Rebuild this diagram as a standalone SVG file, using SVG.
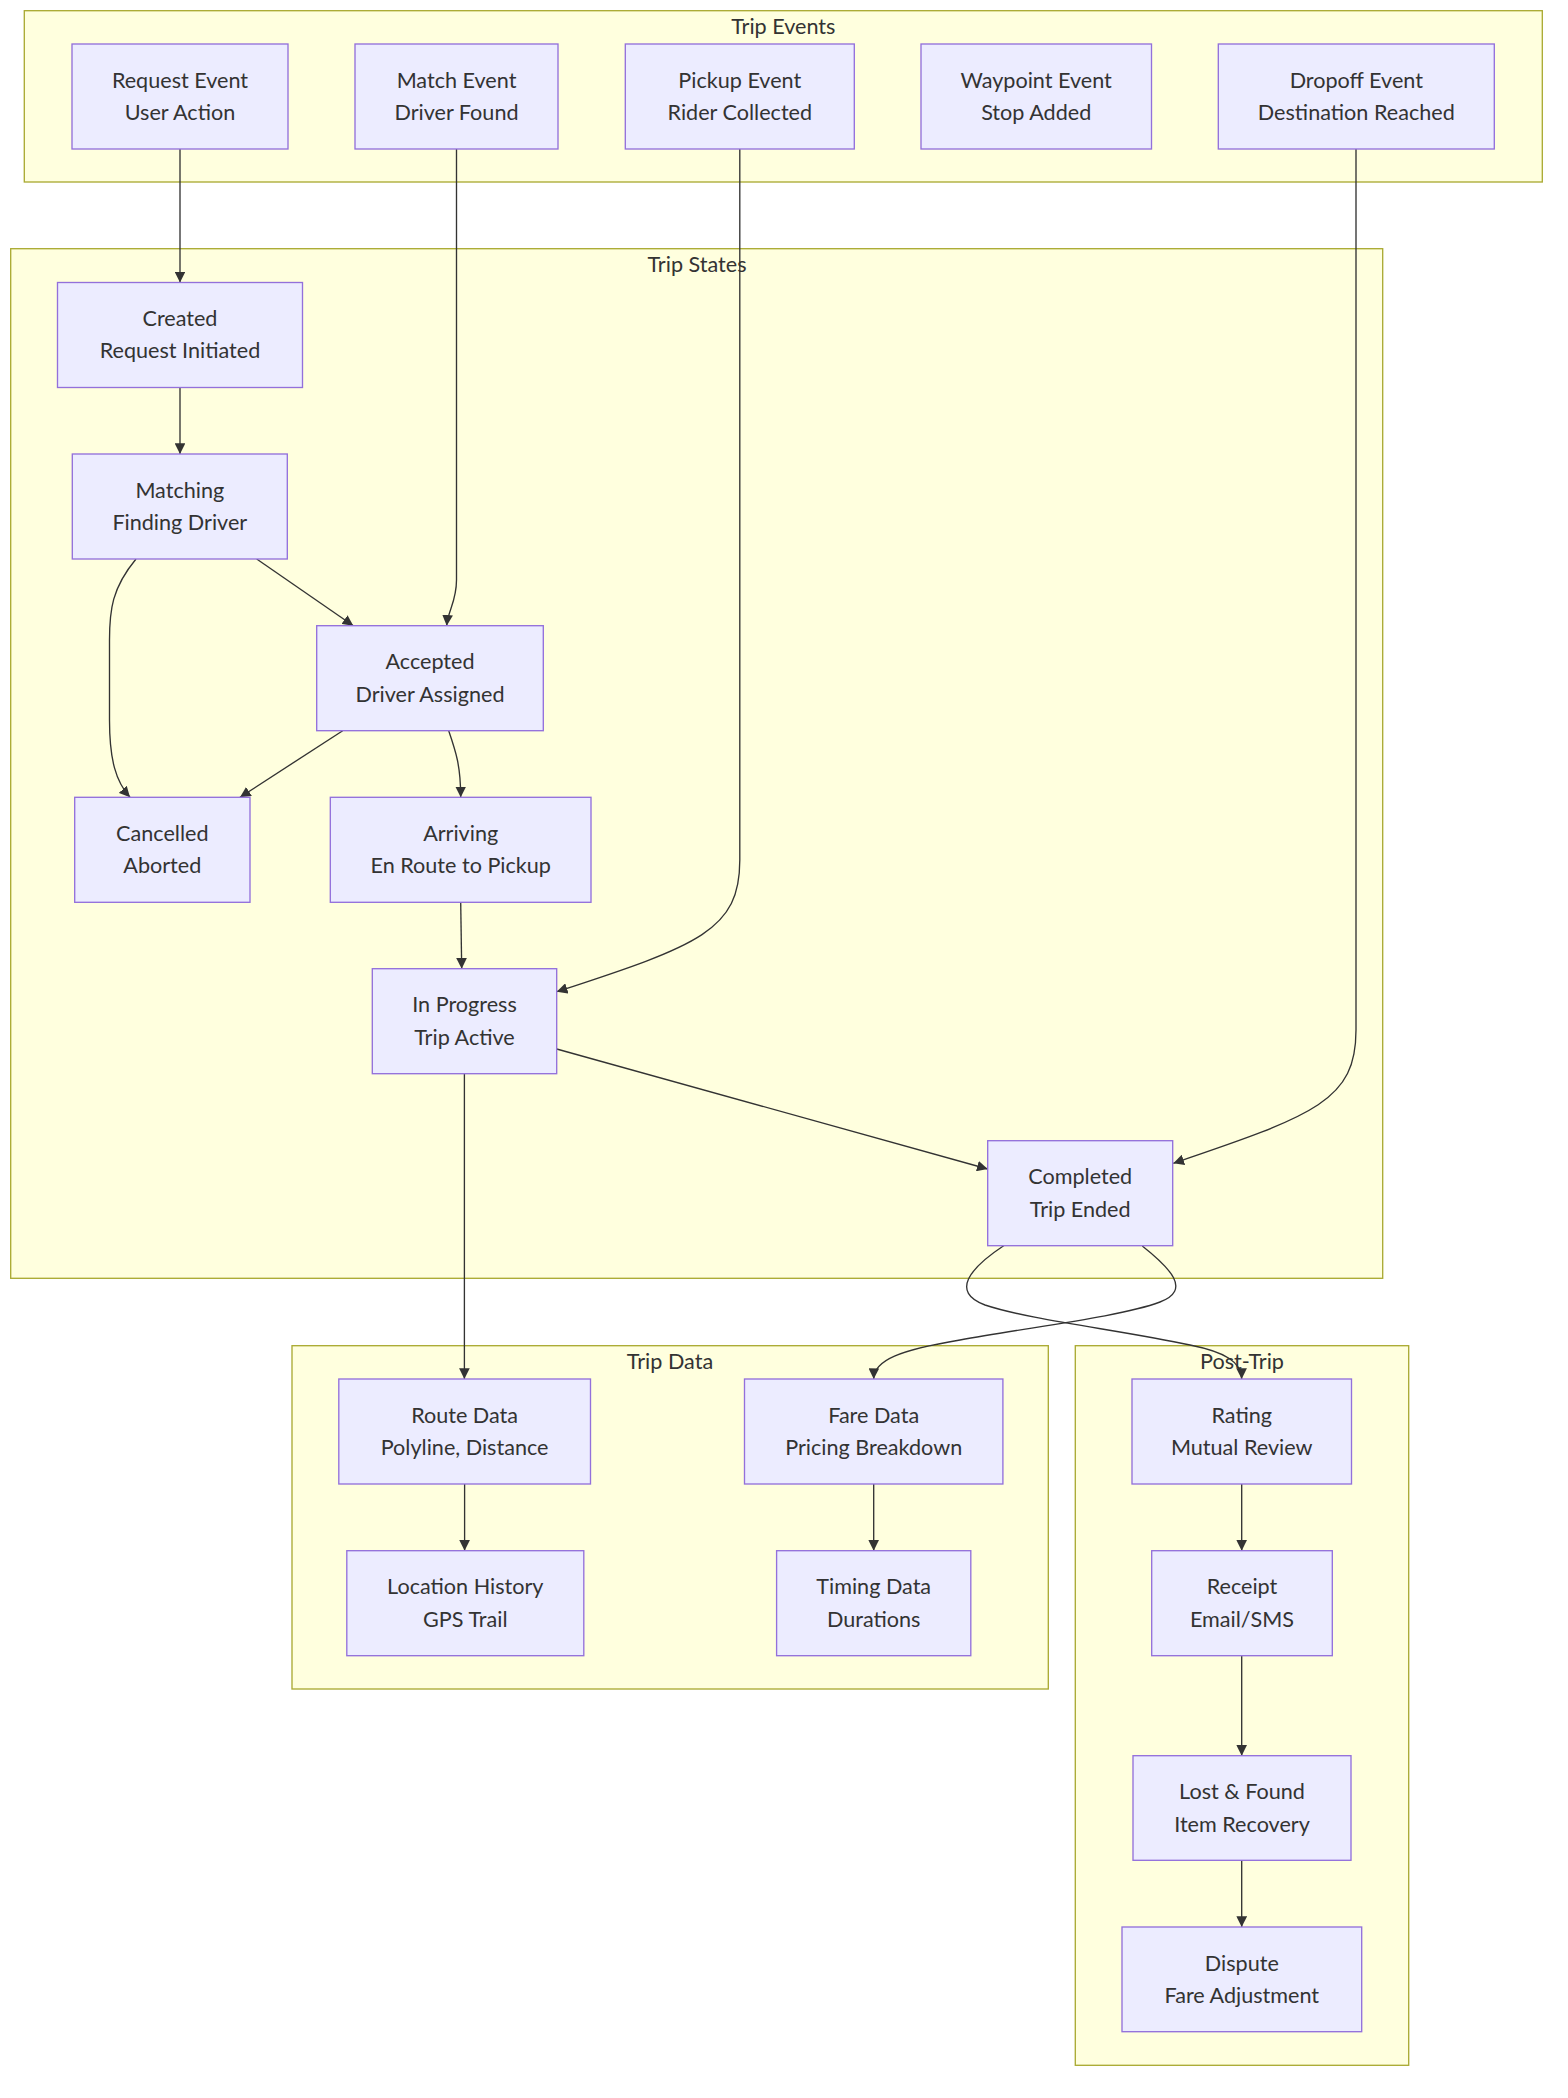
<svg xmlns="http://www.w3.org/2000/svg" width="1568" height="2098" viewBox="0 0 1568 2098">
<style>
.cluster{fill:#ffffde;stroke:#aaaa33;stroke-width:1.34}
.node rect{fill:#ECECFF;stroke:#9370DB;stroke-width:1.34}
text{font-family:"Trebuchet MS",Lato,"Liberation Sans",sans-serif;font-size:21.6px;fill:#333333;text-anchor:middle}
.edge{fill:none;stroke:#333333;stroke-width:1.34}
</style>
<defs>
<marker id="arrow" viewBox="0 0 10 10" refX="10" refY="5" markerUnits="userSpaceOnUse" markerWidth="10.7" markerHeight="10.7" orient="auto">
<path d="M0,0 L10,5 L0,10 z" fill="#333333"/>
</marker>
</defs>
<rect width="1568" height="2098" fill="#ffffff"/>
<g id="clusters">
<g id="cluster-events"><rect class="cluster" x="24.3" y="10.7" width="1518" height="171.3"/><text x="783.3" y="33.5">Trip Events</text></g>
<g id="cluster-states"><rect class="cluster" x="10.7" y="248.7" width="1372" height="1029.6"/><text x="697" y="271.7">Trip States</text></g>
<g id="cluster-data"><rect class="cluster" x="292" y="1345.7" width="756.3" height="343.3"/><text x="670" y="1369">Trip Data</text></g>
<g id="cluster-post"><rect class="cluster" x="1075.3" y="1345.7" width="333.4" height="719.6"/><text x="1242" y="1369">Post-Trip</text></g>
</g>
<g id="edges">
<path class="edge" marker-end="url(#arrow)" d="M180,149 L180,282.5"/>
<path class="edge" marker-end="url(#arrow)" d="M456.5,149 L456.5,580 C456.5,602 448,610 446.7,625.7"/>
<path class="edge" marker-end="url(#arrow)" d="M739.8,149 L739.8,860 C739.8,930 700,945 556.7,991.7"/>
<path class="edge" marker-end="url(#arrow)" d="M1356,149 L1356,1030 C1356,1100 1316,1115 1173.3,1163.3"/>
<path class="edge" marker-end="url(#arrow)" d="M180,387.5 L180,454"/>
<path class="edge" marker-end="url(#arrow)" d="M136,559 C112,588 109.5,610 109.5,640 L109.5,720 C109.5,760 116,782 130,797.3"/>
<path class="edge" marker-end="url(#arrow)" d="M256.7,559 L353.3,625.7"/>
<path class="edge" marker-end="url(#arrow)" d="M342.7,730.7 L240,797.3"/>
<path class="edge" marker-end="url(#arrow)" d="M448.7,730.7 C456,752 460.7,766 460.7,797.3"/>
<path class="edge" marker-end="url(#arrow)" d="M460.7,902.3 L461.7,968.7"/>
<path class="edge" marker-end="url(#arrow)" d="M556.7,1049 L987.7,1169"/>
<path class="edge" marker-end="url(#arrow)" d="M464.4,1073.3 L464.4,1379"/>
<path class="edge" marker-end="url(#arrow)" d="M1004,1245.5 C970,1268 950,1292 985,1305 C1030,1320 1120,1330 1190,1345 C1225,1352 1241.5,1362 1241.7,1379"/>
<path class="edge" marker-end="url(#arrow)" d="M1142.3,1246 C1170,1268 1192,1290 1160,1302 C1120,1317 1030,1327 960,1340 C900,1350 874,1360 873.7,1379"/>
<path class="edge" marker-end="url(#arrow)" d="M464.6,1484 L464.6,1550.7"/>
<path class="edge" marker-end="url(#arrow)" d="M873.7,1484 L873.7,1550.7"/>
<path class="edge" marker-end="url(#arrow)" d="M1241.7,1484 L1241.7,1550.7"/>
<path class="edge" marker-end="url(#arrow)" d="M1241.7,1655.7 L1241.7,1755.7"/>
<path class="edge" marker-end="url(#arrow)" d="M1241.7,1860.3 L1241.7,1927"/>
</g>
<g id="nodes">
<g id="n-request" class="node"><rect x="72" y="44" width="216" height="105"/><text x="180" y="87.5">Request Event</text><text x="180" y="119.8">User Action</text></g>
<g id="n-match" class="node"><rect x="355" y="44" width="203" height="105"/><text x="456.5" y="87.5">Match Event</text><text x="456.5" y="119.8">Driver Found</text></g>
<g id="n-pickup" class="node"><rect x="625.3" y="44" width="229" height="105"/><text x="739.8" y="87.5">Pickup Event</text><text x="739.8" y="119.8">Rider Collected</text></g>
<g id="n-waypoint" class="node"><rect x="921" y="44" width="230.5" height="105"/><text x="1036.2" y="87.5">Waypoint Event</text><text x="1036.2" y="119.8">Stop Added</text></g>
<g id="n-dropoff" class="node"><rect x="1218.3" y="44" width="276" height="105"/><text x="1356.3" y="87.5">Dropoff Event</text><text x="1356.3" y="119.8">Destination Reached</text></g>

<g id="n-created" class="node"><rect x="57.5" y="282.5" width="245" height="105"/><text x="180" y="326">Created</text><text x="180" y="358.3">Request Initiated</text></g>
<g id="n-matching" class="node"><rect x="72.3" y="454" width="215" height="105"/><text x="179.8" y="497.5">Matching</text><text x="179.8" y="529.8">Finding Driver</text></g>
<g id="n-accepted" class="node"><rect x="316.7" y="625.7" width="226.6" height="105"/><text x="430" y="669.2">Accepted</text><text x="430" y="701.5">Driver Assigned</text></g>
<g id="n-cancelled" class="node"><rect x="74.7" y="797.3" width="175.3" height="105"/><text x="162.3" y="840.8">Cancelled</text><text x="162.3" y="873.1">Aborted</text></g>
<g id="n-arriving" class="node"><rect x="330.3" y="797.3" width="260.7" height="105"/><text x="460.7" y="840.8">Arriving</text><text x="460.7" y="873.1">En Route to Pickup</text></g>
<g id="n-inprogress" class="node"><rect x="372.3" y="968.7" width="184.4" height="105"/><text x="464.5" y="1012.2">In Progress</text><text x="464.5" y="1044.5">Trip Active</text></g>
<g id="n-completed" class="node"><rect x="987.7" y="1140.7" width="185" height="105"/><text x="1080.2" y="1184.2">Completed</text><text x="1080.2" y="1216.5">Trip Ended</text></g>

<g id="n-route" class="node"><rect x="338.8" y="1379" width="251.7" height="105"/><text x="464.6" y="1422.5">Route Data</text><text x="464.6" y="1454.8">Polyline, Distance</text></g>
<g id="n-location" class="node"><rect x="346.8" y="1550.7" width="237" height="105"/><text x="465.3" y="1594.2">Location History</text><text x="465.3" y="1626.5">GPS Trail</text></g>
<g id="n-fare" class="node"><rect x="744.5" y="1379" width="258.4" height="105"/><text x="873.7" y="1422.5">Fare Data</text><text x="873.7" y="1454.8">Pricing Breakdown</text></g>
<g id="n-timing" class="node"><rect x="776.6" y="1550.7" width="194.2" height="105"/><text x="873.7" y="1594.2">Timing Data</text><text x="873.7" y="1626.5">Durations</text></g>

<g id="n-rating" class="node"><rect x="1132" y="1379" width="219.5" height="105"/><text x="1241.7" y="1422.5">Rating</text><text x="1241.7" y="1454.8">Mutual Review</text></g>
<g id="n-receipt" class="node"><rect x="1151.7" y="1550.7" width="180.6" height="105"/><text x="1242" y="1594.2">Receipt</text><text x="1242" y="1626.5">Email/SMS</text></g>
<g id="n-lost" class="node"><rect x="1133" y="1755.7" width="218" height="104.6"/><text x="1242" y="1799.2">Lost &amp; Found</text><text x="1242" y="1831.5">Item Recovery</text></g>
<g id="n-dispute" class="node"><rect x="1122" y="1927" width="239.7" height="104.7"/><text x="1241.8" y="1970.5">Dispute</text><text x="1241.8" y="2002.8">Fare Adjustment</text></g>
</g>
</svg>
